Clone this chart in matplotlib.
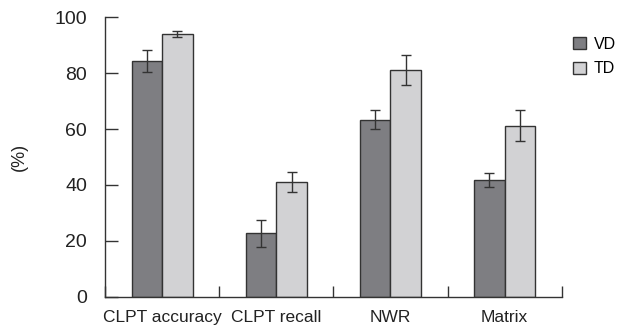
import matplotlib.pyplot as plt
import numpy as np

groups = ['CLPT accuracy', 'CLPT recall', 'NWR', 'Matrix']
vd_mean = [84.4, 22.7, 63.3, 41.7]
vd_err = [3.8, 4.8, 3.4, 2.5]
td_mean = [93.9, 40.9, 81.1, 61.2]
td_err = [1.1, 3.6, 5.4, 5.6]
yticks = [0, 20, 40, 60, 80, 100]

plt.rcParams['font.family'] = ['Liberation Sans', 'DejaVu Sans']
plt.rcParams['font.size'] = 12.5

fig = plt.figure(figsize=(6.18, 3.34), dpi=100)
ax = fig.add_axes([0.170, 0.112, 0.739, 0.836])

x = np.arange(len(groups)) + 0.5
w = 0.267
ek = dict(ecolor='#333333', elinewidth=1, capsize=3.5, capthick=1)
ax.bar(x - w / 2, vd_mean, w, yerr=vd_err, color='#7e7e82', edgecolor='#333333',
       linewidth=1, error_kw=ek, label='VD')
ax.bar(x + w / 2, td_mean, w, yerr=td_err, color='#d2d2d4', edgecolor='#333333',
       linewidth=1, error_kw=ek, label='TD')

ax.set_xlim(0, 4)
ax.set_ylim(0, 100)
ax.set_yticks(yticks)
ax.set_xticks(range(5))
ax.set_xticklabels([])
ax.set_xticks(x, minor=True)
ax.set_xticklabels(groups, minor=True)
ax.tick_params(axis='x', which='major', direction='in', length=8, width=1, color='#333333')
ax.tick_params(axis='x', which='minor', length=0, pad=10, labelcolor='#222222')
ax.tick_params(axis='y', direction='in', length=9, width=1, color='#333333', pad=13,
               labelcolor='#222222', labelsize=14)
for s in ['top', 'right']:
    ax.spines[s].set_visible(False)
for s in ['left', 'bottom']:
    ax.spines[s].set_color('#333333')
    ax.spines[s].set_linewidth(1)

ax.set_ylabel('(%)', color='#222222', fontsize=13)
ax.yaxis.set_label_coords(-0.17, 0.5)

ax.legend(loc='upper left', bbox_to_anchor=(1.025, 0.93), frameon=False, fontsize=11.5,
          handlelength=0.8, handleheight=0.8, handletextpad=0.5, labelspacing=0.6,
          borderaxespad=0, borderpad=0)

fig.savefig('out.png', dpi=100)
